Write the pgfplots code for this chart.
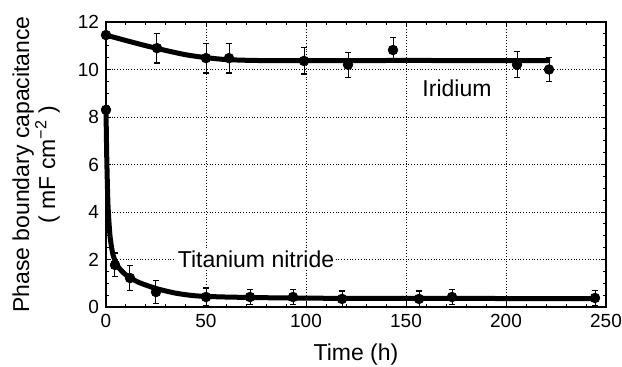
\documentclass[border=0pt]{standalone}
\usepackage{fontspec}
\setmainfont{Liberation Sans}
\usepackage{pgfplots}
\pgfplotsset{compat=1.18}

\begin{document}
\begin{tikzpicture}
\path[use as bounding box] (-53pt,-29.5pt) rectangle (258pt,153.5pt);
\begin{axis}[
  at={(0,0)}, anchor=south west,
  scale only axis,
  width=250pt, height=142.5pt,
  xmin=0, xmax=250, ymin=0, ymax=12,
  xtick={0,50,...,250}, ytick={0,2,...,12},
  minor x tick num=4, minor y tick num=3,
  tick align=inside,
  major tick length=2.5pt, minor tick length=1.6pt,
  axis line style={line width=1pt},
  every tick/.style={black, line width=0.5pt},
  grid=major,
  major grid style={densely dotted, black, line width=0.45pt},
  /pgf/number format/assume math mode=true,
  tick label style={font=\fontsize{9.5}{11}\selectfont},
  label style={font=\fontsize{11.5}{13}\selectfont},
  xlabel={Time (h)},
  xlabel style={at={(axis description cs:0.5,0)}, anchor=north, yshift=-15pt},
  ylabel={Phase boundary capacitance\\( mF cm\textsuperscript{−2} )},
  ylabel style={align=center, at={(axis description cs:0,0.5)}, anchor=south, yshift=19.5pt},
  clip=false,
]
% fitted trends
\addplot[black, line width=2.5pt, smooth, tension=0.5] coordinates {
  (0,11.45) (10,11.22) (20,11.0) (30,10.8) (40,10.62) (50,10.5)
  (60,10.42) (75,10.38) (100,10.37) (150,10.38) (222,10.37)
};
\addplot[black, line width=2.5pt, smooth, tension=0.4] coordinates {
  (0,8.3) (0.4,6.2) (1,4.3) (2,3.0) (3.5,2.2) (6,1.7) (10,1.35)
  (16,1.05) (25,0.78) (35,0.58) (45,0.47) (60,0.42) (90,0.38)
  (130,0.36) (180,0.36) (245,0.35)
};
% Iridium measurements
\addplot[black, only marks, mark=*, mark size=2.4pt,
  error bars/.cd, y dir=both, y explicit,
  error bar style={line width=0.5pt}, error mark options={rotate=90, mark size=1.6pt, line width=0.6pt}]
  table[x=t, y=c, y error=e] {
  t     c      e
  0     11.45  0
  25.5  10.9   0.63
  50    10.48  0.63
  61.5  10.48  0.63
  99    10.36  0.55
  121   10.2   0.53
  143.5 10.82  0.52
  205.5 10.2   0.55
  221.5 10.0   0.52
};
% Titanium nitride measurements
\addplot[black, only marks, mark=*, mark size=2.4pt,
  error bars/.cd, y dir=both, y explicit,
  error bar style={line width=0.5pt}, error mark options={rotate=90, mark size=1.6pt, line width=0.6pt}]
  table[x=t, y=c, y error=e] {
  t     c     e
  0     8.3   0
  4.5   1.77  0.5
  12    1.22  0.53
  25    0.63  0.48
  50    0.42  0.38
  72    0.42  0.33
  93.5  0.42  0.33
  118   0.34  0.33
  156.5 0.34  0.33
  173   0.42  0.33
  244.5 0.38  0.33
};
\node[font=\fontsize{11.5}{13}\selectfont] at (axis cs:175.5,9.2) {Iridium};
\node[font=\fontsize{11.5}{13}\selectfont, fill=white, inner sep=1pt] at (axis cs:75,2.0) {Titanium nitride};
\end{axis}
\end{tikzpicture}
\end{document}
